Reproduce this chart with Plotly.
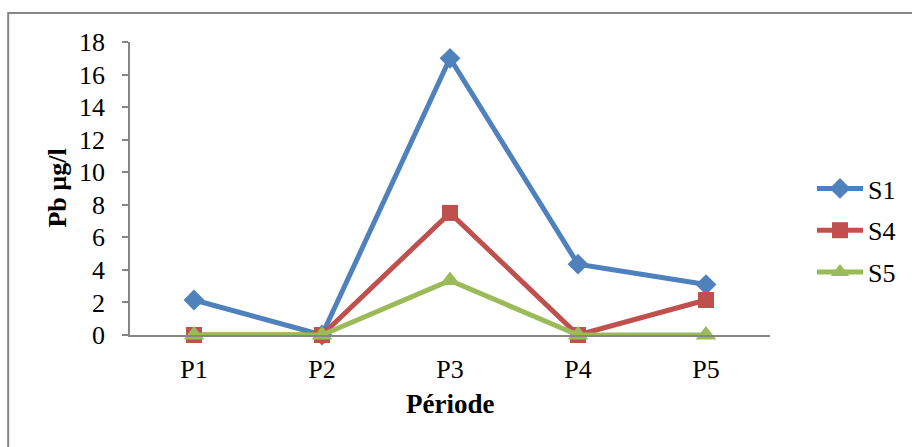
import plotly.graph_objects as go

# Pb concentrations (µg/l) per sampling period
periods = ["P1", "P2", "P3", "P4", "P5"]
s1 = [2.15, 0, 17, 4.35, 3.1]
s4 = [0, 0, 7.5, 0, 2.15]
s5 = [0, 0, 3.35, 0, 0]

series = [
    ("S1", s1, "#4F81BD", "diamond", 16),
    ("S4", s4, "#C0504D", "square", 16),
    ("S5", s5, "#9BBB59", "triangle-up", 18),
]

FONT = "Liberation Serif, Times New Roman, serif"
W, H = 912, 447
L, R, T, B = 130, 141, 42, 112
pw, ph = W - L - R, H - T - B

fig = go.Figure()
for name, vals, col, sym, size in series:
    fig.add_trace(go.Scatter(
        x=periods, y=vals, name=name, mode="lines+markers",
        line=dict(color=col, width=5),
        marker=dict(symbol=sym, size=size, color=col),
        legendgroup=name, cliponaxis=False,
    ))

# outer chart frame (partly cut off at right and bottom)
fig.add_shape(
    type="rect", xref="paper", yref="paper",
    x0=(8 - L) / pw, x1=(W + 10 - L) / pw,
    y0=-(H + 10 - (T + ph)) / ph, y1=(T + ph - 13) / ph,
    line=dict(color="#868686", width=2), fillcolor="rgba(0,0,0,0)", layer="below",
)

fig.add_annotation(
    text="<b>Pb µg/l</b>", xref="paper", yref="paper",
    x=(57 - L) / pw, y=0.5, textangle=-90, showarrow=False,
    font=dict(family=FONT, size=26, color="black"), xanchor="center", yanchor="middle",
)
fig.add_annotation(
    text="<b>Période</b>", xref="paper", yref="paper",
    x=0.5, y=-(404 - (T + ph)) / ph, showarrow=False,
    font=dict(family=FONT, size=27, color="black"), xanchor="center", yanchor="middle",
)

fig.update_layout(
    width=W, height=H,
    margin=dict(l=L, r=R, t=T, b=B),
    paper_bgcolor="white", plot_bgcolor="white",
    font=dict(family=FONT, size=26, color="black"),
    showlegend=True,
    legend=dict(
        x=(812 - L) / pw, y=(T + ph - 165) / ph, xanchor="left", yanchor="top",
        font=dict(family=FONT, size=26, color="black"),
        tracegroupgap=5, itemwidth=46, bgcolor="rgba(0,0,0,0)",
    ),
    xaxis=dict(
        type="category", range=[-0.5, 4.5], showgrid=False, zeroline=False,
        showline=True, linecolor="#868686", linewidth=1.5, ticks="",
        ticklabelstandoff=10,
        tickfont=dict(family=FONT, size=26, color="black"),
    ),
    yaxis=dict(
        range=[0, 18], dtick=2, showgrid=False, zeroline=False,
        showline=True, linecolor="#868686", linewidth=1.5,
        ticks="outside", ticklen=6, tickcolor="#868686", tickwidth=1.5,
        ticklabelstandoff=12,
        tickfont=dict(family=FONT, size=26, color="black"),
    ),
)

fig.write_html("out.html")
